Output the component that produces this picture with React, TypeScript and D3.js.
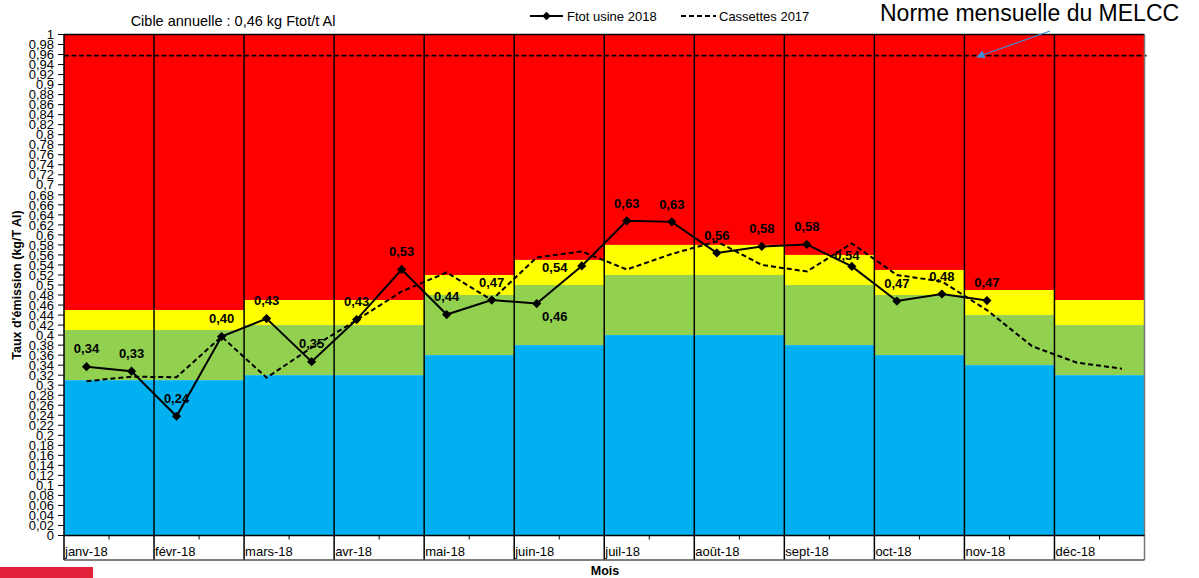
import React from 'react';
import * as d3 from 'd3';

const months = ['janv-18', 'févr-18', 'mars-18', 'avr-18', 'mai-18', 'juin-18', 'juil-18', 'août-18', 'sept-18', 'oct-18', 'nov-18', 'déc-18'];
const blueTop = [0.31, 0.31, 0.32, 0.32, 0.36, 0.38, 0.40, 0.40, 0.38, 0.36, 0.34, 0.32];
const greenTop = [0.41, 0.41, 0.42, 0.42, 0.48, 0.50, 0.52, 0.52, 0.50, 0.48, 0.44, 0.42];
const yellowTop = [0.45, 0.45, 0.47, 0.47, 0.52, 0.55, 0.58, 0.58, 0.56, 0.53, 0.49, 0.47];
const ftot2018 = [0.337, 0.328, 0.238, 0.397, 0.433, 0.347, 0.431, 0.531, 0.441, 0.47, 0.463, 0.538, 0.628, 0.626, 0.564, 0.577, 0.581, 0.537, 0.468, 0.482, 0.469];
const cassettes2017 = [0.308, 0.317, 0.316, 0.397, 0.315, 0.375, 0.43, 0.487, 0.525, 0.47, 0.555, 0.567, 0.531, 0.562, 0.587, 0.54, 0.527, 0.583, 0.52, 0.507, 0.45, 0.378, 0.345, 0.333];
const normeMELCC = 0.958;
const yTicks = d3.range(0, 51).map((i) => i * 0.02);

// label placement offsets (layout only)
const labelDx = ftot2018.map((_, i) => (i === 10 ? 18 : i === 11 ? -27 : i === 17 ? -5 : 0));
const labelDy = ftot2018.map((_, i) => (i === 10 ? 13 : i === 11 ? 1 : i === 17 ? -11 : -18));

const FONT = '"Liberation Sans", Arial, sans-serif';
const W = 1199;
const H = 578;
const L = 64;
const R = 1144.5;
const T = 34.5;
const B = 535.5;

const COLORS = { red: '#FF0000', yellow: '#FFFF00', green: '#92D050', blue: '#00B0F0' };

const fmtTick = (v: number) => String(Math.round(v * 100) / 100).replace('.', ',');
const fmtLabel = (v: number) => v.toFixed(2).replace('.', ',');

export default function App() {
  const y = d3.scaleLinear().domain([0, 1]).range([B, T]);
  const xm = d3.scaleBand<string>().domain(months).range([L, R]).padding(0);
  const slot = d3.scaleLinear().domain([0, 24]).range([L, R]);
  const px = (i: number) => slot(i + 0.5);

  const line = d3
    .line<number>()
    .x((_, i) => px(i))
    .y((d) => y(d));

  const diamond = (cx: number, cy: number, r = 4.6) => `M${cx},${cy - r}L${cx + r},${cy}L${cx},${cy + r}L${cx - r},${cy}Z`;

  const bw = xm.bandwidth();

  return (
    <svg width={W} height={H} style={{ position: 'absolute', left: 0, top: 0, background: '#fff' }} fontFamily={FONT}>
      {/* bands */}
      {months.map((m, i) => {
        const x0 = xm(m)!;
        return (
          <g key={m}>
            <rect x={x0} y={y(1)} width={bw} height={y(yellowTop[i]) - y(1)} fill={COLORS.red} />
            <rect x={x0} y={y(yellowTop[i])} width={bw} height={y(greenTop[i]) - y(yellowTop[i])} fill={COLORS.yellow} />
            <rect x={x0} y={y(greenTop[i])} width={bw} height={y(blueTop[i]) - y(greenTop[i])} fill={COLORS.green} />
            <rect x={x0} y={y(blueTop[i])} width={bw} height={y(0) - y(blueTop[i])} fill={COLORS.blue} />
          </g>
        );
      })}

      {/* norme line */}
      <line x1={L} x2={R + 2} y1={y(normeMELCC)} y2={y(normeMELCC)} stroke="#000" strokeWidth={1.8} strokeDasharray="5 2.5" />

      {/* month separators */}
      {months.slice(1).map((m) => (
        <line key={m} x1={xm(m)!} x2={xm(m)!} y1={T} y2={560} stroke="#000" strokeWidth={1.5} />
      ))}

      {/* borders */}
      <line x1={L} x2={R} y1={T} y2={T} stroke="#000" strokeWidth={1.5} />
      <line x1={R} x2={R} y1={T} y2={560} stroke="#777" strokeWidth={1.5} />
      <line x1={L} x2={L} y1={T} y2={560} stroke="#000" strokeWidth={1.5} />
      <line x1={L} x2={R} y1={B} y2={B} stroke="#000" strokeWidth={1.5} />
      <line x1={L} x2={R} y1={560} y2={560} stroke="#555" strokeWidth={1.5} />

      {/* mid-month minor ticks */}
      {months.map((m) => (
        <line key={m} x1={xm(m)! + bw / 2} x2={xm(m)! + bw / 2} y1={B} y2={B + 4} stroke="#000" strokeWidth={1} />
      ))}

      {/* month labels */}
      {months.map((m) => (
        <text key={m} x={xm(m)! + 1} y={556} fontSize={13} fill="#000">
          {m}
        </text>
      ))}

      {/* y ticks */}
      {yTicks.map((t) => (
        <g key={t}>
          <line x1={L - 6} x2={L} y1={y(t)} y2={y(t)} stroke="#000" strokeWidth={1} />
          <text x={54} y={y(t)} dy="0.36em" textAnchor="end" fontSize={13} fill="#000">
            {fmtTick(t)}
          </text>
        </g>
      ))}

      {/* 2017 dashed series */}
      <path d={line(cassettes2017)!} fill="none" stroke="#000" strokeWidth={2} strokeDasharray="5 3" />

      {/* 2018 series */}
      <path d={line(ftot2018)!} fill="none" stroke="#000" strokeWidth={2} />
      {ftot2018.map((v, i) => (
        <path key={i} d={diamond(px(i), y(v))} fill="#000" />
      ))}
      {ftot2018.map((v, i) => (
        <text key={'l' + i} x={px(i) + labelDx[i]} y={y(v) + labelDy[i]} dy="0.36em" textAnchor="middle" fontSize={13} fontWeight="bold" fill="#000">
          {fmtLabel(v)}
        </text>
      ))}

      {/* titles */}
      <text x={233} y={26} textAnchor="middle" fontSize={14.5} fill="#000">
        Cible annuelle : 0,46 kg Ftot/t Al
      </text>
      <text x={605} y={575} textAnchor="middle" fontSize={12.5} fontWeight="bold" fill="#000">
        Mois
      </text>
      <text transform={`translate(21,${285}) rotate(-90)`} textAnchor="middle" fontSize={12.5} fontWeight="bold" fill="#000">
        Taux d'émission (kg/T Al)
      </text>

      {/* legend */}
      <line x1={530} x2={563} y1={16} y2={16} stroke="#000" strokeWidth={2} />
      <path d={diamond(546.5, 16, 4.3)} fill="#000" />
      <text x={567} y={20.5} fontSize={13} fill="#000">
        Ftot usine 2018
      </text>
      <line x1={681} x2={716} y1={16} y2={16} stroke="#000" strokeWidth={2} strokeDasharray="5 3" />
      <text x={719} y={20.5} fontSize={13} fill="#000">
        Cassettes 2017
      </text>

      {/* annotation */}
      <text x={880} y={21} fontSize={23} fill="#000">
        Norme mensuelle du MELCC
      </text>
      <defs>
        <marker id="arr" viewBox="0 0 10 10" refX="9" refY="5" markerWidth="7" markerHeight="7" orient="auto">
          <path d="M0,0L10,5L0,10Z" fill="#3A8FD9" />
        </marker>
      </defs>
      <line x1={1050} y1={31} x2={977} y2={57} stroke="#3A8FD9" strokeWidth={1.2} markerEnd="url(#arr)" />

      {/* bottom-left red tab */}
      <rect x={0} y={567} width={93} height={11} fill="#E2203A" />
    </svg>
  );
}
